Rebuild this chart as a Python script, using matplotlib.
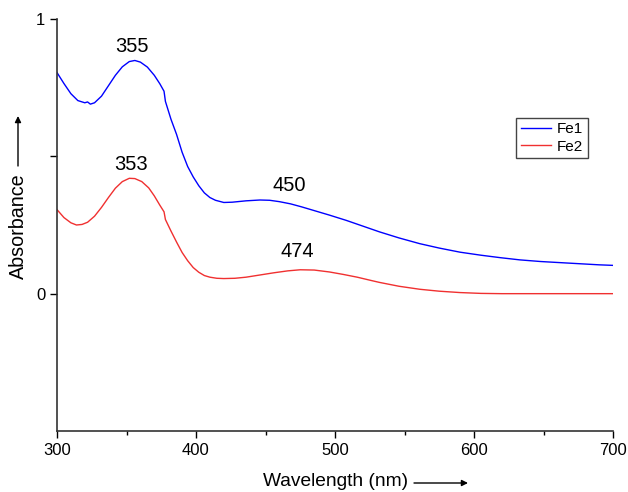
import matplotlib
matplotlib.use('Agg')
import matplotlib.pyplot as plt

plt.rcParams['font.family'] = ['Liberation Sans', 'DejaVu Sans']

# Fe1 spectrum
wl_fe1 = [300, 305, 310, 315, 320, 322, 324, 327, 332, 337, 342, 347, 352, 356,
          360, 365, 370, 374, 377, 378, 382, 386, 390, 394, 398, 402, 406, 410,
          414, 420, 426, 436, 446, 453, 460, 468, 476, 484, 496, 508, 520, 532,
          546, 561, 575, 590, 605, 619, 633, 648, 662, 676, 690, 700]
abs_fe1 = [0.805, 0.765, 0.728, 0.703, 0.695, 0.698, 0.690, 0.695, 0.719, 0.757,
           0.795, 0.826, 0.845, 0.849, 0.843, 0.825, 0.795, 0.764, 0.737, 0.700,
           0.635, 0.580, 0.515, 0.463, 0.425, 0.393, 0.367, 0.350, 0.340, 0.332,
           0.333, 0.338, 0.341, 0.340, 0.335, 0.327, 0.316, 0.304, 0.286, 0.267,
           0.246, 0.225, 0.203, 0.182, 0.166, 0.151, 0.140, 0.131, 0.123, 0.117,
           0.113, 0.109, 0.105, 0.103]

# Fe2 spectrum
wl_fe2 = [300, 305, 310, 314, 318, 322, 327, 332, 337, 342, 347, 352, 356, 361,
          366, 370, 374, 377, 378, 382, 386, 390, 394, 398, 402, 406, 410, 415,
          420, 428, 436, 446, 456, 466, 475, 485, 496, 506, 516, 526, 532, 546,
          561, 575, 590, 605, 620, 650, 700]
abs_fe2 = [0.306, 0.277, 0.258, 0.250, 0.252, 0.260, 0.282, 0.314, 0.350, 0.384,
           0.408, 0.420, 0.419, 0.408, 0.385, 0.356, 0.322, 0.298, 0.270, 0.228,
           0.188, 0.150, 0.120, 0.095, 0.078, 0.066, 0.060, 0.056, 0.055, 0.056,
           0.060, 0.068, 0.076, 0.083, 0.087, 0.086, 0.079, 0.070, 0.060, 0.048,
           0.041, 0.027, 0.016, 0.009, 0.004, 0.001, 0.000, 0.000, 0.000]

peak_labels = ['355', '353', '450', '474']
peak_x = [354, 353, 467, 473]
peak_y = [0.90, 0.47, 0.395, 0.155]

fig = plt.figure(figsize=(6.28, 4.92), dpi=100)
ax = fig.add_axes([57 / 628, 61 / 492, 556 / 628, 412 / 492])

ax.plot(wl_fe1, abs_fe1, color='#0000ff', lw=1.0, label='Fe1')
ax.plot(wl_fe2, abs_fe2, color='#f03030', lw=1.0, label='Fe2')

for lab, px, py in zip(peak_labels, peak_x, peak_y):
    ax.text(px, py, lab, ha='center', va='center', fontsize=14.5)

ax.set_xlim(300, 700)
ax.set_ylim(-0.5, 1)
ax.set_xticks([300, 400, 500, 600, 700])
ax.set_xticks([350, 450, 550, 650], minor=True)
ax.set_yticks([0, 0.5, 1])
ax.set_yticklabels(['0', '', '1'])
ax.tick_params(axis='both', which='major', direction='out', length=5,
               width=1.0, labelsize=12, pad=3.5)
ax.tick_params(axis='x', which='minor', direction='out', length=3, width=1.0)
for s in ['top', 'right']:
    ax.spines[s].set_visible(False)
for s in ['left', 'bottom']:
    ax.spines[s].set_linewidth(1.2)
    ax.spines[s].set_color('#333333')

leg = ax.legend(loc='upper left', bbox_to_anchor=(0.826, 0.76), borderaxespad=0,
                fontsize=11, handlelength=2.0, handletextpad=0.35,
                borderpad=0.3, labelspacing=0.2, fancybox=False, framealpha=1)
leg.get_frame().set_edgecolor('#444444')
leg.get_frame().set_linewidth(1.0)

# axis titles with arrows
fig.text(336 / 628, 1 - 482 / 492, 'Wavelength (nm)', ha='center', va='center',
         fontsize=13.8)
fig.text(18 / 628, 1 - 226 / 492, 'Absorbance', ha='center', va='center',
         fontsize=14.2, rotation=90)
ax.annotate('', xy=(468 / 628, 1 - 483 / 492), xytext=(414 / 628, 1 - 483 / 492),
            xycoords='figure fraction', textcoords='figure fraction',
            arrowprops=dict(arrowstyle='-|>', color='black', lw=1.0,
                            mutation_scale=9, shrinkA=0, shrinkB=0))
ax.annotate('', xy=(18 / 628, 1 - 116 / 492), xytext=(18 / 628, 1 - 166 / 492),
            xycoords='figure fraction', textcoords='figure fraction',
            arrowprops=dict(arrowstyle='-|>', color='black', lw=1.0,
                            mutation_scale=9, shrinkA=0, shrinkB=0))

fig.savefig('out.png', dpi=100)
